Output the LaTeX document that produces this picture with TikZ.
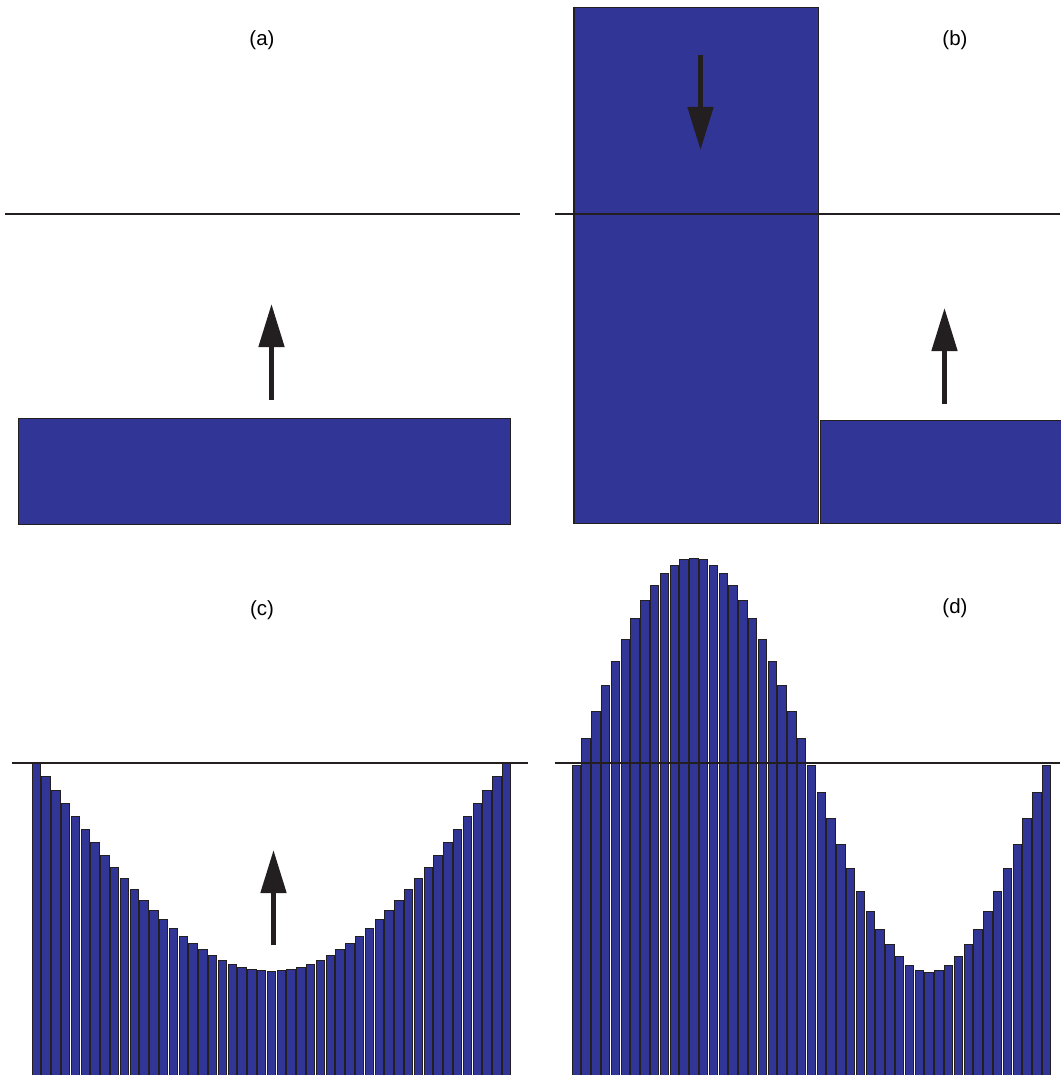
\documentclass[tikz,border=0pt]{standalone}
\usepackage{fontspec}
\setmainfont{Liberation Sans}
\usetikzlibrary{arrows.meta}
\definecolor{barblue}{RGB}{49,53,149}
\definecolor{ink}{RGB}{35,31,32}
\tikzset{
  block/.style={fill=barblue,draw=ink,line width=0.9pt},
  bar/.style={fill=barblue,draw=ink,line width=0.8pt},
  level/.style={draw=ink,line width=2pt},
  push/.style={draw=ink,line width=4.8pt,-{Triangle[length=43pt,width=25pt]}},
  tag/.style={font=\fontsize{20.5}{24}\selectfont,inner sep=0pt}
}
\begin{document}
\begin{tikzpicture}[x=1pt,y=-1pt]
\useasboundingbox (0,0) rectangle (1060,1075);
\fill[white] (0,0) rectangle (1060,1075);

% ---------- (a)
\node[tag] (la) at (262,40) {(a)};
\draw[block] (18,418.5) rectangle (510,524);
\coordinate (a1) at (5,214.5);
\coordinate (a2) at (520,214.5);
\draw[level] (a1) -- (a2);
\coordinate (as) at (271.5,400);
\coordinate (at) at (271.5,304);
\draw[push] (as) -- (at);

% ---------- (b)
\node[tag] (lb) at (955,40) {(b)};
\draw[block] (573.5,7) rectangle (818,523);
\draw[ink,line width=2pt] (574,7) -- (574,523);
\draw[block] (820.5,420) rectangle (1061,523);
\coordinate (b1) at (555,214.5);
\coordinate (b2) at (1060,214.5);
\draw[level] (b1) -- (b2);
\coordinate (bs) at (700.5,55);
\coordinate (bt) at (700.5,150);
\draw[push] (bs) -- (bt);
\coordinate (cs) at (944.5,404);
\coordinate (ct) at (944.5,308);
\draw[push] (cs) -- (ct);

% ---------- (c)
\node[tag] (lc) at (262,610) {(c)};
\foreach \i in {0,...,48}{
  \pgfmathsetmacro{\xl}{32+9.8*\i}
  \pgfmathsetmacro{\yt}{763+208*sin(3.75*\i)}
  \draw[bar] (\xl,\yt) rectangle ++(8.3,1076-\yt);
}
\coordinate (c1) at (12,762.5);
\coordinate (c2) at (528,762.5);
\draw[level] (c1) -- (c2);
\coordinate (ds) at (273.5,945);
\coordinate (dt) at (273.5,850);
\draw[push] (ds) -- (dt);

% ---------- (d)
\node[tag] (ld) at (955,608) {(d)};
\foreach \i in {0,...,48}{
  \pgfmathsetmacro{\xl}{572+9.8*\i}
  \pgfmathsetmacro{\yt}{765-207*sin(7.5*\i)}
  \draw[bar] (\xl,\yt) rectangle ++(8.3,1076-\yt);
}
\coordinate (d1) at (555,762.5);
\coordinate (d2) at (1060,762.5);
\draw[level] (d1) -- (d2);
\end{tikzpicture}
\end{document}
